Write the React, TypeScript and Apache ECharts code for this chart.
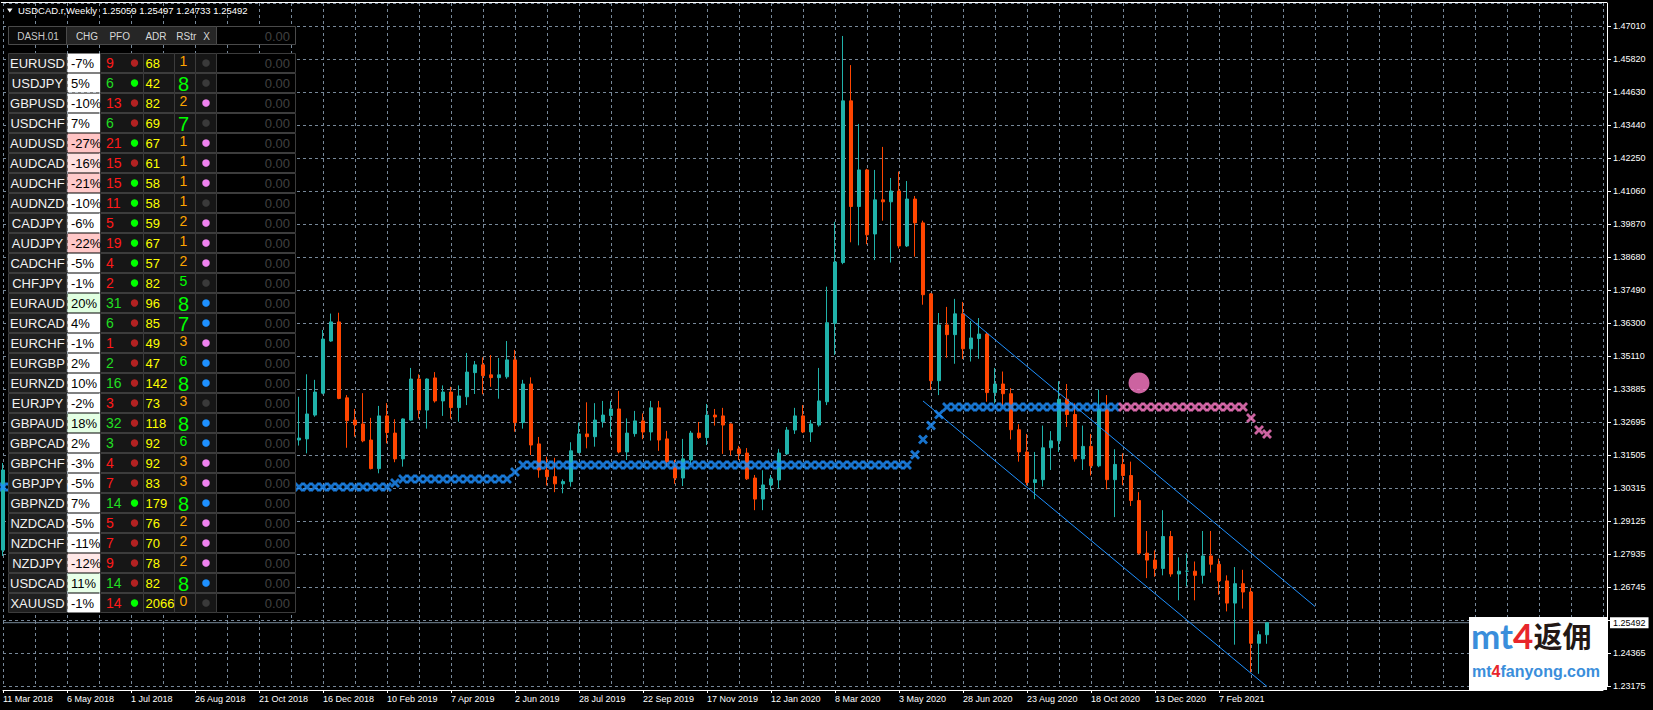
import React, { useEffect, useRef } from "react";
import * as echarts from "echarts";

const FONT = '"Liberation Sans", Arial, sans-serif';

// ---------- axis labels ----------
const dateLabels = [
  "11 Mar 2018", "6 May 2018", "1 Jul 2018", "26 Aug 2018", "21 Oct 2018", "16 Dec 2018",
  "10 Feb 2019", "7 Apr 2019", "2 Jun 2019", "28 Jul 2019", "22 Sep 2019", "17 Nov 2019",
  "12 Jan 2020", "8 Mar 2020", "3 May 2020", "28 Jun 2020", "23 Aug 2020", "18 Oct 2020",
  "13 Dec 2020", "7 Feb 2021",
];
const priceLabels = [
  "1.47010", "1.45820", "1.44630", "1.43440", "1.42250", "1.41060", "1.39870", "1.38680",
  "1.37490", "1.36300", "1.35110", "1.33885", "1.32695", "1.31505", "1.30315", "1.29125",
  "1.27935", "1.26745", "", "1.24365", "1.23175",
];
const TOP_GRID_PRICE = 1.4701;
const GRID_STEP = 0.0119;
const BOTTOM_GRID_PRICE = 1.2321;
const TOTAL_WEEKS = 201;
const FIRST_WEEK = 37;
const BID = 1.25492;

// week 0 candle (mostly hidden behind the dashboard): [open, close, low, high]
const week0Candle = [1.2811, 1.31, 1.279, 1.3125];

// ---------- weekly candles (weeks 37 .. 158) ----------
const opens = [
  1.3208, 1.3212, 1.3298, 1.3377, 1.3565, 1.3634, 1.336, 1.328, 1.3266, 1.3208,
  1.3105, 1.3295, 1.3233, 1.314, 1.328, 1.3428, 1.3316, 1.3432, 1.3349, 1.3381,
  1.3325, 1.3364, 1.3451, 1.3479, 1.3443, 1.3433, 1.3436, 1.3497, 1.3271, 1.341,
  1.3194, 1.31, 1.3076, 1.305, 1.3058, 1.3163, 1.323, 1.322, 1.3274, 1.3296,
  1.332, 1.3165, 1.3231, 1.3277, 1.3237, 1.3324, 1.3212, 1.3112, 1.3071, 1.3136,
  1.3233, 1.3217, 1.3298, 1.3295, 1.3266, 1.3176, 1.3161, 1.3071, 1.2995, 1.3046,
  1.3064, 1.3158, 1.3244, 1.3295, 1.3237, 1.3262, 1.3346, 1.3629, 1.3848, 1.4431,
  1.405, 1.4182, 1.3951, 1.4074, 1.4067, 1.4106, 1.3908, 1.4077, 1.3991, 1.3735,
  1.3422, 1.3623, 1.3588, 1.3663, 1.3537, 1.3574, 1.359, 1.3379, 1.341, 1.3375,
  1.3245, 1.3165, 1.3055, 1.3065, 1.318, 1.3205, 1.3355, 1.33, 1.314, 1.3185,
  1.3115, 1.332, 1.3065, 1.312, 1.308, 1.299, 1.28, 1.2775, 1.2745, 1.286,
  1.2725, 1.2735, 1.2735, 1.272, 1.279, 1.276, 1.27, 1.262, 1.269, 1.266,
  1.2475, 1.25059,
];
const closes = [
  1.3215, 1.3302, 1.3381, 1.3572, 1.3634, 1.3358, 1.3278, 1.3263, 1.3205, 1.3105,
  1.3295, 1.3235, 1.314, 1.3284, 1.3428, 1.3316, 1.3428, 1.3349, 1.3381, 1.3325,
  1.3367, 1.3453, 1.3479, 1.344, 1.3433, 1.3443, 1.3497, 1.3271, 1.341, 1.319,
  1.31, 1.3076, 1.305, 1.3058, 1.3169, 1.323, 1.322, 1.328, 1.3298, 1.332,
  1.3165, 1.3233, 1.3277, 1.3237, 1.3324, 1.3208, 1.313, 1.3071, 1.314, 1.3233,
  1.3217, 1.3298, 1.3291, 1.3262, 1.3172, 1.3159, 1.3068, 1.2995, 1.3046, 1.3068,
  1.3161, 1.3244, 1.3295, 1.3237, 1.3266, 1.3349, 1.3631, 1.385, 1.4431, 1.405,
  1.4182, 1.3948, 1.4074, 1.4067, 1.4106, 1.3908, 1.4077, 1.3991, 1.3732, 1.3422,
  1.3623, 1.3588, 1.3663, 1.3537, 1.3576, 1.359, 1.3379, 1.341, 1.3375, 1.3245,
  1.3165, 1.3055, 1.3065, 1.318, 1.3205, 1.3355, 1.33, 1.314, 1.3185, 1.3115,
  1.332, 1.3065, 1.312, 1.308, 1.299, 1.28, 1.2775, 1.2745, 1.286, 1.2725,
  1.2735, 1.2735, 1.272, 1.279, 1.276, 1.27, 1.262, 1.269, 1.266, 1.2475,
  1.2506, 1.25492,
];
const lows = [
  1.3188, 1.316, 1.3292, 1.3373, 1.3562, 1.3355, 1.318, 1.322, 1.32, 1.3102,
  1.3088, 1.3196, 1.3128, 1.3112, 1.3278, 1.3286, 1.3249, 1.3343, 1.3295, 1.3285,
  1.3274, 1.3334, 1.3374, 1.3373, 1.34, 1.3357, 1.3429, 1.3238, 1.3249, 1.3154,
  1.3072, 1.3044, 1.302, 1.3016, 1.304, 1.316, 1.3178, 1.3184, 1.3253, 1.322,
  1.316, 1.3136, 1.322, 1.3211, 1.3206, 1.3169, 1.3112, 1.305, 1.3042, 1.3118,
  1.3212, 1.319, 1.326, 1.3158, 1.3152, 1.3136, 1.3064, 1.2955, 1.2955, 1.3028,
  1.3034, 1.3154, 1.323, 1.3233, 1.3201, 1.3256, 1.3334, 1.3515, 1.3842, 1.3921,
  1.391, 1.3914, 1.3857, 1.3999, 1.3848, 1.3899, 1.3904, 1.3869, 1.3696, 1.3389,
  1.337, 1.3505, 1.3483, 1.35, 1.3491, 1.3501, 1.3346, 1.334, 1.333, 1.321,
  1.313, 1.3045, 1.2995, 1.304, 1.31, 1.3165, 1.3255, 1.313, 1.31, 1.308,
  1.311, 1.303, 1.293, 1.3045, 1.297, 1.2795, 1.271, 1.2715, 1.272, 1.2715,
  1.263, 1.268, 1.263, 1.269, 1.273, 1.265, 1.259, 1.247, 1.26, 1.237,
  1.2365, 1.24733,
];
const highs = [
  1.3364, 1.3445, 1.3425, 1.3605, 1.3664, 1.3667, 1.337, 1.332, 1.3377, 1.3288,
  1.3331, 1.3341, 1.3283, 1.3286, 1.3468, 1.3445, 1.343, 1.3453, 1.3405, 1.34,
  1.3405, 1.3522, 1.3493, 1.3506, 1.3514, 1.3504, 1.3565, 1.3533, 1.3425, 1.3434,
  1.3219, 1.3148, 1.3144, 1.3066, 1.32, 1.3271, 1.3344, 1.3341, 1.3349, 1.3349,
  1.3385, 1.3286, 1.3313, 1.3304, 1.3349, 1.3349, 1.3241, 1.3136, 1.3212, 1.3241,
  1.3273, 1.3338, 1.332, 1.3324, 1.3268, 1.3187, 1.3179, 1.3082, 1.3099, 1.3082,
  1.3176, 1.3255, 1.3324, 1.3334, 1.328, 1.3468, 1.3761, 1.3995, 1.4665, 1.456,
  1.4348, 1.4186, 1.4182, 1.4265, 1.4153, 1.4176, 1.4142, 1.4088, 1.3999, 1.3738,
  1.3666, 1.3688, 1.3717, 1.3706, 1.3637, 1.3648, 1.3598, 1.3468, 1.3455, 1.3395,
  1.3265, 1.323, 1.3165, 1.326, 1.324, 1.342, 1.341, 1.334, 1.326, 1.323,
  1.339, 1.337, 1.3175, 1.316, 1.313, 1.302, 1.288, 1.281, 1.2955, 1.288,
  1.2785, 1.28, 1.277, 1.288, 1.288, 1.278, 1.272, 1.275, 1.274, 1.2675,
  1.252, 1.25497,
];

// ---------- indicator markers: [fromWeek, toWeek, price] ----------
const blueMarkerRuns = [
  [0, 48, 1.30387], [49, 49, 1.30531], [50, 63, 1.30675], [64, 64, 1.3093],
  [65, 113, 1.3118], [114, 114, 1.3155], [115, 115, 1.321], [116, 116, 1.326],
  [117, 117, 1.33], [118, 139, 1.33272],
];
const pinkMarkerRuns = [
  [140, 155, 1.33272], [156, 156, 1.32875], [157, 157, 1.32442], [158, 158, 1.32298],
];
const pinkDot = [142, 1.3414];
// channel lines: [week, price]
const channelUpper = [[120, 1.36662], [164, 1.26077]];
const channelLower = [[115, 1.33488], [158, 1.2319]];

// ---------- dashboard ----------
const pairs = ["EURUSD", "USDJPY", "GBPUSD", "USDCHF", "AUDUSD", "AUDCAD", "AUDCHF", "AUDNZD", "CADJPY", "AUDJPY", "CADCHF", "CHFJPY", "EURAUD", "EURCAD", "EURCHF", "EURGBP", "EURNZD", "EURJPY", "GBPAUD", "GBPCAD", "GBPCHF", "GBPJPY", "GBPNZD", "NZDCAD", "NZDCHF", "NZDJPY", "USDCAD", "XAUUSD"];
const chg = [-7, 5, -10, 7, -27, -16, -21, -10, -6, -22, -5, -1, 20, 4, -1, 2, 10, -2, 18, 2, -3, -5, 7, -5, -11, -12, 11, -1];
const pfo = [9, 6, 13, 6, 21, 15, 15, 11, 5, 19, 4, 2, 31, 6, 1, 2, 16, 3, 32, 3, 4, 7, 14, 5, 7, 9, 14, 14];
const pfoDot = ["r", "g", "r", "r", "g", "r", "g", "g", "g", "g", "g", "g", "r", "r", "r", "r", "r", "r", "r", "r", "r", "r", "g", "r", "r", "r", "r", "g"];
const adr = [68, 42, 82, 69, 67, 61, 58, 58, 59, 67, 57, 82, 96, 85, 49, 47, 142, 73, 118, 92, 92, 83, 179, 76, 70, 78, 82, 2066];
const rstr = [1, 8, 2, 7, 1, 1, 1, 1, 2, 1, 2, 5, 8, 7, 3, 6, 8, 3, 8, 6, 3, 3, 8, 2, 2, 2, 8, 0];
const xDot = ["n", "n", "v", "n", "v", "v", "v", "n", "v", "v", "v", "n", "b", "b", "v", "b", "b", "n", "b", "b", "v", "v", "b", "v", "v", "v", "b", "n"];
const chgBg: Record<string, string> = {
  "-27": "#ffc4c4", "-22": "#ffc8c8", "-21": "#ffcaca", "-16": "#ffe0e0", "-12": "#ffe8e8",
  "20": "#e0ffe0", "18": "#e4ffe4", "11": "#e8ffe8",
};

const BULL = "#20B2AA";
const BEAR = "#FF4500";
const BLUE = "#1E90FF";
const PINK = "#FF7CC8";
const GRID = "#778899";
const X_SYMBOL = "path://M0,2L2,0L5,3L8,0L10,2L7,5L10,8L8,10L5,7L2,10L0,8L3,5Z";

function expandRuns(runs: number[][]) {
  const out: number[][] = [];
  runs.forEach(([a, b, p]) => {
    for (let w = a; w <= b; w++) out.push([w, p]);
  });
  return out;
}

function panelElements() {
  const els: any[] = [];
  const rect = (x: number, y: number, w: number, h: number, fill: string, stroke?: string) => ({
    type: "rect", z: 100, shape: { x, y, width: w, height: h },
    style: { fill, stroke: stroke || null, lineWidth: 1 },
  });
  const text = (x: number, y: number, t: string, color: string, size: number, align = "left") => ({
    type: "text", z: 101, x, y,
    style: { text: t, fill: color, fontSize: size, fontFamily: FONT, align, verticalAlign: "middle" },
  });
  const dot = (cx: number, cy: number, r: number, fill: string) => ({
    type: "circle", z: 101, shape: { cx, cy, r }, style: { fill },
  });
  const border = "#3c3c3c";
  // header
  els.push(rect(8.5, 26.5, 58, 18, "#0b0b0b", "#4a4a4a"));
  els.push(text(38, 36, "DASH.01", "#c8c8c8", 10, "center"));
  els.push(rect(66.5, 26.5, 150, 18, "#262626", "#4a4a4a"));
  [["CHG", 87], ["PFO", 119.7], ["ADR", 156], ["RStr", 186.3], ["X", 206.7]].forEach(([t, x]) =>
    els.push(text(x as number, 36, t as string, "#d8d8d8", 10, "center"))
  );
  els.push(rect(216.5, 26.5, 79, 18, "#000", "#4a4a4a"));
  els.push(text(290, 36, "0.00", "#404040", 13, "right"));

  pairs.forEach((name, k) => {
    const T = 53 + 20 * k;
    const cy = T + 10;
    els.push(rect(8.5, T + 0.5, 58, 19, "#1f1f1f", border));
    els.push(text(37.5, cy, name, "#f2f2f2", 13, "center"));
    els.push(rect(67.5, T + 0.5, 32.5, 19, chgBg[String(chg[k])] || "#ffffff"));
    els.push(text(71, cy, chg[k] + "%", "#000", 13));
    els.push(rect(100.5, T + 0.5, 43, 19, "#161616", border));
    els.push(text(106, cy, String(pfo[k]), chg[k] >= 0 ? "#22dd22" : "#ff1a1a", 14));
    els.push(dot(134.5, cy, 3.7, pfoDot[k] === "g" ? "#00ff00" : "#b22222"));
    els.push(rect(143.5, T + 0.5, 31, 19, "#161616", border));
    els.push(text(145.5, cy, String(adr[k]), "#ffff00", 13));
    els.push(rect(174.5, T + 0.5, 21, 19, "#161616", border));
    const big = rstr[k] >= 7;
    els.push(text(183.5, big ? T + 11 : T + 8, String(rstr[k]), rstr[k] >= 5 ? "#00ff00" : "#ffa500", big ? 20 : 14, "center"));
    els.push(rect(195.5, T + 0.5, 21, 19, "#161616", border));
    els.push(dot(206, cy, 3.8, xDot[k] === "b" ? "#1e90ff" : xDot[k] === "v" ? "#ee82ee" : "#3a3a3a"));
    els.push(rect(216.5, T + 0.5, 79, 19, "#000", border));
    els.push(text(290, cy, "0.00", "#404040", 13, "right"));
  });
  return els;
}

function buildOption() {
  const cats = Array.from({ length: TOTAL_WEEKS }, (_, i) => String(i));
  const candles = [[0, ...week0Candle], ...opens.map((o, j) => [FIRST_WEEK + j, o, closes[j], lows[j], highs[j]])];
  const yMax = BOTTOM_GRID_PRICE + (683 / 33) * GRID_STEP;

  const graphic: any[] = [
    { type: "line", z: 90, shape: { x1: 1, y1: 2.5, x2: 1607, y2: 2.5 }, style: { stroke: "#ffffff", lineWidth: 1 } },
    { type: "polygon", z: 110, shape: { points: [[7, 8.5], [12.5, 8.5], [9.75, 12.5]] }, style: { fill: "#ffffff" } },
    {
      type: "text", z: 110, x: 18, y: 10.5,
      style: { text: "USDCAD.r,Weekly  1.25059 1.25497 1.24733 1.25492", fill: "#ffffff", fontSize: 9.5, fontFamily: FONT, verticalAlign: "middle" },
    },
    ...panelElements(),
    { type: "rect", z: 120, shape: { x: 1469, y: 617, width: 138, height: 73 }, style: { fill: "#ffffff" } },
    {
      type: "text", z: 121, x: 1471, y: 652,
      style: {
        text: "{a|mt}{b|4}{c|返佣}", verticalAlign: "bottom",
        rich: {
          a: { fill: "#3a8edb", fontSize: 35, fontWeight: "bold", fontFamily: "Lato, Arial, sans-serif" },
          b: { fill: "#e8262b", fontSize: 35, fontWeight: "bold", fontFamily: "Lato, Arial, sans-serif" },
          c: { fill: "#231815", fontSize: 29, fontWeight: "bold", fontFamily: '"Noto Sans CJK SC", sans-serif' },
        },
      },
    },
    {
      type: "text", z: 121, x: 1472, y: 671,
      style: {
        text: "{a|mt}{b|4}{a|fanyong.com}", verticalAlign: "middle",
        rich: {
          a: { fill: "#3a8edb", fontSize: 16, fontWeight: "bold", fontFamily: FONT },
          b: { fill: "#e8262b", fontSize: 16, fontWeight: "bold", fontFamily: FONT },
        },
      },
    },
  ];

  return {
    animation: false,
    backgroundColor: "#000000",
    grid: { left: 3, top: 3, width: 1600, height: 683 },
    xAxis: {
      type: "category",
      data: cats,
      boundaryGap: false,
      offset: 4,
      axisLine: { show: true, lineStyle: { color: "#ffffff", width: 1 } },
      axisTick: {
        show: true, length: 3, lineStyle: { color: "#ffffff" },
        interval: (i: number) => i % 8 === 0 && i / 8 < dateLabels.length,
      },
      axisLabel: {
        color: "#ffffff", fontSize: 9, fontFamily: FONT, align: "left", margin: 4,
        interval: (i: number) => i % 8 === 0 && i / 8 < dateLabels.length,
        formatter: (_v: string, i: number) => (i % 8 === 0 ? dateLabels[i / 8] || "" : ""),
      },
      splitLine: {
        show: true, interval: (i: number) => i % 4 === 0,
        lineStyle: { color: GRID, type: [3, 3], width: 1 },
      },
    },
    yAxis: {
      type: "value",
      position: "right",
      min: BOTTOM_GRID_PRICE,
      max: yMax,
      interval: GRID_STEP,
      offset: 4,
      axisLine: { show: true, lineStyle: { color: "#ffffff", width: 1 } },
      axisTick: { show: true, length: 4, lineStyle: { color: "#ffffff" } },
      axisLabel: {
        color: "#ffffff", fontSize: 9, fontFamily: FONT, margin: 6, showMaxLabel: false,
        formatter: (v: number) => {
          const idx = Math.round((TOP_GRID_PRICE - v) / GRID_STEP);
          return priceLabels[idx] ?? "";
        },
      },
      splitLine: { show: true, lineStyle: { color: GRID, type: [3, 3], width: 1 } },
    },
    graphic,
    series: [
      {
        type: "line",
        data: [[0, BID], [TOTAL_WEEKS - 1, BID]],
        symbol: "none",
        silent: true,
        z: 1,
        lineStyle: { color: GRID, width: 1, type: "solid" },
        endLabel: {
          show: true, formatter: "1.25492", color: "#000000", backgroundColor: "#ffffff",
          fontSize: 9, fontFamily: FONT, padding: [1, 3, 1, 3], distance: 7,
        },
      },
      {
        type: "candlestick",
        data: candles,
        dimensions: ["week", "open", "close", "lowest", "highest"],
        encode: { x: 0, y: [1, 2, 3, 4] },
        barWidth: 4,
        clip: false,
        itemStyle: { color: BULL, color0: BEAR, borderColor: BULL, borderColor0: BEAR, borderWidth: 1 },
      },
      {
        type: "line", data: channelUpper, symbol: "none", clip: false,
        lineStyle: { color: BLUE, width: 1 }, z: 3,
      },
      {
        type: "line", data: channelLower, symbol: "none", clip: false,
        lineStyle: { color: BLUE, width: 1 }, z: 3,
      },
      {
        type: "scatter", data: expandRuns(blueMarkerRuns), symbol: X_SYMBOL, symbolSize: 10,
        itemStyle: { color: BLUE }, z: 4,
      },
      {
        type: "scatter", data: expandRuns(pinkMarkerRuns), symbol: X_SYMBOL, symbolSize: 10,
        itemStyle: { color: PINK }, z: 4,
      },
      {
        type: "scatter", data: [pinkDot], symbol: "circle", symbolSize: 21,
        itemStyle: { color: PINK }, z: 4,
      },
    ],
  };
}

export default function App() {
  const ref = useRef<HTMLDivElement>(null);
  useEffect(() => {
    document.body.style.margin = "0";
    document.body.style.background = "#000";
    const chart = echarts.init(ref.current!, null, { renderer: "svg" });
    chart.setOption(buildOption() as any);
    return () => chart.dispose();
  }, []);
  return <div ref={ref} style={{ width: 1653, height: 710, background: "#000" }} />;
}
